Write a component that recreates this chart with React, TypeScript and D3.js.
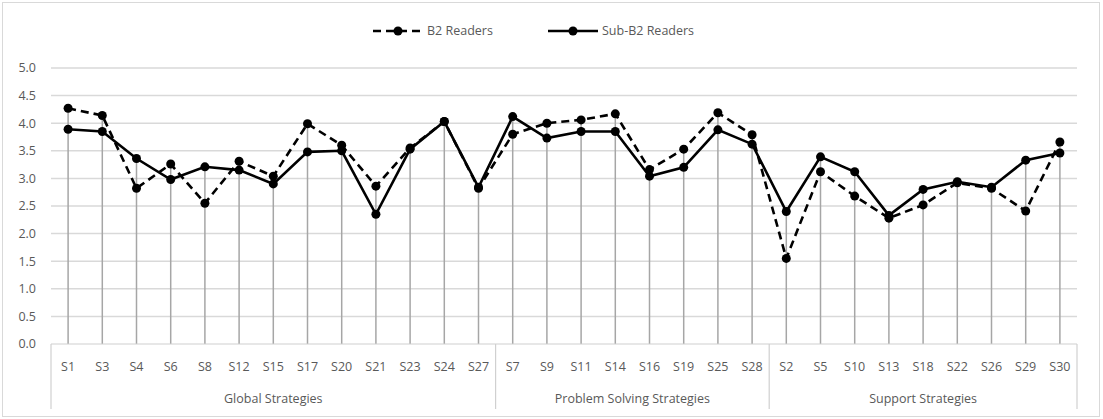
import React, { useEffect, useRef } from "react"
import * as d3 from "d3"

const globalStrategies = ["S1", "S3", "S4", "S6", "S8", "S12", "S15", "S17", "S20", "S21", "S23", "S24", "S27"]
const problemStrategies = ["S7", "S9", "S11", "S14", "S16", "S19", "S25", "S28"]
const supportStrategies = ["S2", "S5", "S10", "S13", "S18", "S22", "S26", "S29", "S30"]
const groupNames = ["Global Strategies", "Problem Solving Strategies", "Support Strategies"]

const b2Readers = [
  4.27, 4.14, 2.82, 3.26, 2.55, 3.31, 3.04, 3.99, 3.6, 2.86, 3.55, 4.03, 2.82,
  3.8, 4.0, 4.06, 4.17, 3.16, 3.53, 4.19, 3.79,
  1.55, 3.12, 2.68, 2.28, 2.52, 2.92, 2.82, 2.41, 3.66,
]
const subB2Readers = [
  3.89, 3.85, 3.36, 2.98, 3.21, 3.15, 2.9, 3.48, 3.5, 2.35, 3.53, 4.03, 2.84,
  4.12, 3.73, 3.85, 3.85, 3.04, 3.2, 3.88, 3.62,
  2.4, 3.39, 3.12, 2.33, 2.8, 2.94, 2.84, 3.33, 3.46,
]
const yTicks = [0, 0.5, 1, 1.5, 2, 2.5, 3, 3.5, 4, 4.5, 5]

const W = 1103
const H = 419
const FONT = "'Open Sans', 'Liberation Sans', sans-serif"
const TEXT = "#595959"

const App = () => {
  const ref = useRef<SVGSVGElement | null>(null)

  useEffect(() => {
    const svg = d3.select(ref.current)
    svg.selectAll("*").remove()

    const groups = [globalStrategies, problemStrategies, supportStrategies]
    const cats = groups.flat()

    const x = d3.scaleBand().domain(cats).range([51, 1077]).padding(0)
    const y = d3.scaleLinear().domain([0, 5]).range([344, 68])
    const cx = (c: string) => x(c)! + x.bandwidth() / 2

    // chart border
    svg
      .append("rect")
      .attr("x", 2.5)
      .attr("y", 2.5)
      .attr("width", W - 6)
      .attr("height", H - 5)
      .attr("fill", "white")
      .attr("stroke", "#d9d9d9")

    // horizontal gridlines
    svg
      .append("g")
      .selectAll("line")
      .data(yTicks.filter((t) => t > 0))
      .join("line")
      .attr("x1", 51)
      .attr("x2", 1077)
      .attr("y1", (d) => y(d))
      .attr("y2", (d) => y(d))
      .attr("stroke", "#d9d9d9")
      .attr("stroke-width", 1.5)

    // y labels
    svg
      .append("g")
      .selectAll("text")
      .data(yTicks)
      .join("text")
      .attr("x", 36)
      .attr("y", (d) => y(d))
      .attr("dy", "0.35em")
      .attr("text-anchor", "end")
      .attr("font-family", FONT)
      .attr("font-size", 12.5)
      .attr("fill", TEXT)
      .text((d) => d.toFixed(1))

    // drop lines
    svg
      .append("g")
      .selectAll("line")
      .data(cats)
      .join("line")
      .attr("x1", (d) => cx(d))
      .attr("x2", (d) => cx(d))
      .attr("y1", (d, i) => y(Math.max(b2Readers[i], subB2Readers[i])))
      .attr("y2", y(0))
      .attr("stroke", "#a6a6a6")
      .attr("stroke-width", 1.5)

    // category axis box
    const axisG = svg.append("g").attr("stroke", "#d0d0d0").attr("stroke-width", 1.2)
    axisG.append("line").attr("x1", 51).attr("x2", 1077).attr("y1", y(0)).attr("y2", y(0))
    let start = 0
    const bounds: number[] = [51]
    groups.forEach((g) => {
      start += g.length
      bounds.push(x(cats[start - 1])! + x.bandwidth())
    })
    axisG
      .selectAll("line.sep")
      .data(bounds)
      .join("line")
      .attr("class", "sep")
      .attr("x1", (d) => d)
      .attr("x2", (d) => d)
      .attr("y1", y(0))
      .attr("y2", 409)

    svg
      .append("g")
      .selectAll("text")
      .data(cats)
      .join("text")
      .attr("x", (d) => cx(d))
      .attr("y", 367)
      .attr("dy", "0.35em")
      .attr("text-anchor", "middle")
      .attr("font-family", FONT)
      .attr("font-size", 12.5)
      .attr("fill", TEXT)
      .text((d) => d)

    svg
      .append("g")
      .selectAll("text")
      .data(groupNames)
      .join("text")
      .attr("x", (d, i) => (bounds[i] + bounds[i + 1]) / 2)
      .attr("y", 399)
      .attr("dy", "0.35em")
      .attr("text-anchor", "middle")
      .attr("font-family", FONT)
      .attr("font-size", 12.5)
      .attr("fill", TEXT)
      .text((d) => d)

    // series
    const series = [
      { name: "B2 Readers", values: b2Readers, dash: "8,5" },
      { name: "Sub-B2 Readers", values: subB2Readers, dash: null },
    ]
    const line = d3
      .line<number>()
      .x((d, i) => cx(cats[i]))
      .y((d) => y(d))

    series.forEach((s) => {
      svg
        .append("path")
        .datum(s.values)
        .attr("d", line)
        .attr("fill", "none")
        .attr("stroke", "#000")
        .attr("stroke-width", 2.6)
        .attr("stroke-dasharray", s.dash)
      svg
        .append("g")
        .selectAll("circle")
        .data(s.values)
        .join("circle")
        .attr("cx", (d, i) => cx(cats[i]))
        .attr("cy", (d) => y(d))
        .attr("r", 4.5)
        .attr("fill", "#000")
    })

    // legend
    const legendPos = [373, 548]
    series.forEach((s, i) => {
      const lg = svg.append("g").attr("transform", `translate(${legendPos[i]},31)`)
      lg.append("line")
        .attr("x1", 0)
        .attr("x2", 50)
        .attr("stroke", "#000")
        .attr("stroke-width", 2.6)
        .attr("stroke-dasharray", s.dash)
      lg.append("circle").attr("cx", 25).attr("r", 4.5).attr("fill", "#000")
      lg.append("text")
        .attr("x", 54)
        .attr("dy", "0.35em")
        .attr("font-family", FONT)
        .attr("font-size", 12.5)
        .attr("fill", TEXT)
        .text(s.name)
    })
  }, [])

  return (
    <div style={{ position: "absolute", left: 0, top: 0 }}>
      <svg ref={ref} width={W} height={H} style={{ display: "block" }}></svg>
    </div>
  )
}

export default App
